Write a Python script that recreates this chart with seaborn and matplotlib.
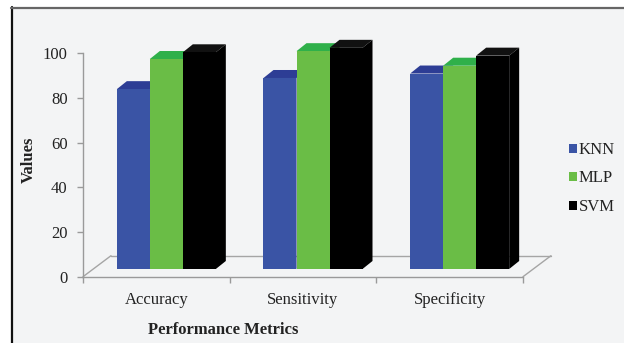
import numpy as np
import pandas as pd
import matplotlib
matplotlib.use("Agg")
import matplotlib.pyplot as plt
import seaborn as sns
from matplotlib.patches import Polygon, Rectangle, Patch
from matplotlib.lines import Line2D

# ---------------- data ----------------
metrics = ["Accuracy", "Sensitivity", "Specificity"]
models = ["KNN", "MLP", "SVM"]
knn_values = [80.5, 85.5, 87.5]
mlp_values = [94.0, 97.5, 91.0]
svm_values = [97.0, 99.0, 95.5]
y_ticks = [0, 20, 40, 60, 80, 100]

front_colors = {"KNN": "#3a54a5", "MLP": "#6abd46", "SVM": "#000000"}
top_colors = {"KNN": "#2d3d95", "MLP": "#2fb04a", "SVM": "#111111"}
side_colors = {"KNN": "#26337e", "MLP": "#3f8f2c", "SVM": "#000000"}

df = pd.DataFrame({
    "Metric": metrics * 3,
    "Model": ["KNN"] * 3 + ["MLP"] * 3 + ["SVM"] * 3,
    "Value": knn_values + mlp_values + svm_values,
})

W, H = 624, 343
sns.set_theme(style="white")
plt.rcParams["font.family"] = ["Liberation Serif", "DejaVu Serif"]

fig = plt.figure(figsize=(W / 100, H / 100), dpi=100)
fig.patch.set_facecolor("white")

def rect(left, top, width, height):
    return [left / W, (H - top - height) / H, width / W, height / H]

# background frame
fig.patches.append(Rectangle((11 / W, 0), 1, (H - 7) / H, transform=fig.transFigure,
                             facecolor="#f3f4f5", edgecolor="none", zorder=-10))
fig.lines.append(Line2D([12 / W, 12 / W], [0, (H - 7) / H], transform=fig.transFigure,
                        color="#111111", lw=1.6))
fig.lines.append(Line2D([11 / W, 1], [(H - 7.5) / H] * 2, transform=fig.transFigure,
                        color="#666666", lw=1.6))

axw, axh = 440, 223.4
bar_dx, bar_dy = 10, 7.7      # front plane of the bars (px)
depth_dx, depth_dy = 10, 8    # bar depth (px)
floor_dx, floor_dy = 28, 21   # floor depth (px)

# front axes (axis lines, ticks, labels, floor)
axf = fig.add_axes(rect(83, 53.3, axw, axh))
axf.patch.set_alpha(0)
axf.set_xlim(-0.5, 2.5)
axf.set_ylim(0, 100)
for s in ["top", "right"]:
    axf.spines[s].set_visible(False)
for s in ["left", "bottom"]:
    axf.spines[s].set_color("#9a9a9a")
    axf.spines[s].set_linewidth(1.0)
axf.set_yticks(y_ticks)
axf.set_yticklabels([str(t) for t in y_ticks])
axf.set_xticks(range(len(metrics)))
axf.set_xticklabels(metrics)
axf.set_xticks([-0.5, 0.5, 1.5, 2.5], minor=True)
axf.tick_params(axis="y", direction="out", length=4, width=1, color="#9a9a9a",
                pad=7, labelsize=12, labelcolor="#222222", left=True)
axf.tick_params(axis="x", which="major", length=0, pad=11, labelsize=12,
                labelcolor="#222222", bottom=True)
axf.tick_params(axis="x", which="minor", direction="out", length=4, width=1,
                color="#9a9a9a", bottom=True)
axf.set_xlabel("Performance Metrics", fontsize=12, fontweight="bold", color="#222222")
axf.xaxis.set_label_coords((223 - 83) / axw, (277 - 322) / axh)
axf.set_ylabel("Values", fontsize=12, fontweight="bold", color="#222222")
axf.yaxis.set_label_coords((37 - 83) / axw, (277 - 160) / axh)

fx = floor_dx * 3 / axw
fy = floor_dy * 100 / axh
floor_kw = dict(color="#a5a5a5", lw=1.0, clip_on=False)
axf.plot([-0.5 + fx, 2.5 + fx], [fy, fy], **floor_kw)
axf.plot([-0.5, -0.5 + fx], [0, fy], **floor_kw)
axf.plot([2.5, 2.5 + fx], [0, fy], **floor_kw)

# bar axes (front plane of the bars)
axb = fig.add_axes(rect(83 + bar_dx, 53.3 - bar_dy, axw, axh))
axb.patch.set_alpha(0)
sns.barplot(data=df, x="Metric", y="Value", hue="Model", order=metrics,
            hue_order=models, palette=front_colors, saturation=1, width=0.675,
            gap=0, legend=False, ax=axb)
axb.set_xlim(-0.5, 2.5)
axb.set_ylim(0, 100)
axb.axis("off")

ddx = depth_dx * 3 / axw
ddy = depth_dy * 100 / axh
bars = sorted(axb.patches, key=lambda p: p.get_x())
for i, p in enumerate(bars):
    x, w, h = p.get_x(), p.get_width(), p.get_height()
    fc = p.get_facecolor()
    name = min(models, key=lambda m: np.sum((np.array(matplotlib.colors.to_rgb(front_colors[m])) - np.array(fc[:3])) ** 2))
    z = 2 + i * 0.1
    p.set_zorder(z + 0.05)
    p.set_edgecolor("none")
    p.set_clip_on(False)
    top = Polygon([(x, h), (x + w, h), (x + w + ddx, h + ddy), (x + ddx, h + ddy)],
                  closed=True, facecolor=top_colors[name], edgecolor="none",
                  zorder=z, clip_on=False)
    side = Polygon([(x + w, 0), (x + w + ddx, ddy), (x + w + ddx, h + ddy), (x + w, h)],
                   closed=True, facecolor=side_colors[name], edgecolor="none",
                   zorder=z, clip_on=False)
    axb.add_patch(top)
    axb.add_patch(side)

# legend
handles = [Patch(facecolor=front_colors[m], edgecolor="none") for m in models]
fig.legend(handles, models, loc="upper left", bbox_to_anchor=(569 / W, (H - 142) / H),
           bbox_transform=fig.transFigure, frameon=False, fontsize=12,
           handlelength=0.45, handleheight=0.45, handletextpad=0.15,
           labelspacing=0.75, borderpad=0, borderaxespad=0, labelcolor="#222222")

fig.savefig("out.png", dpi=100)
